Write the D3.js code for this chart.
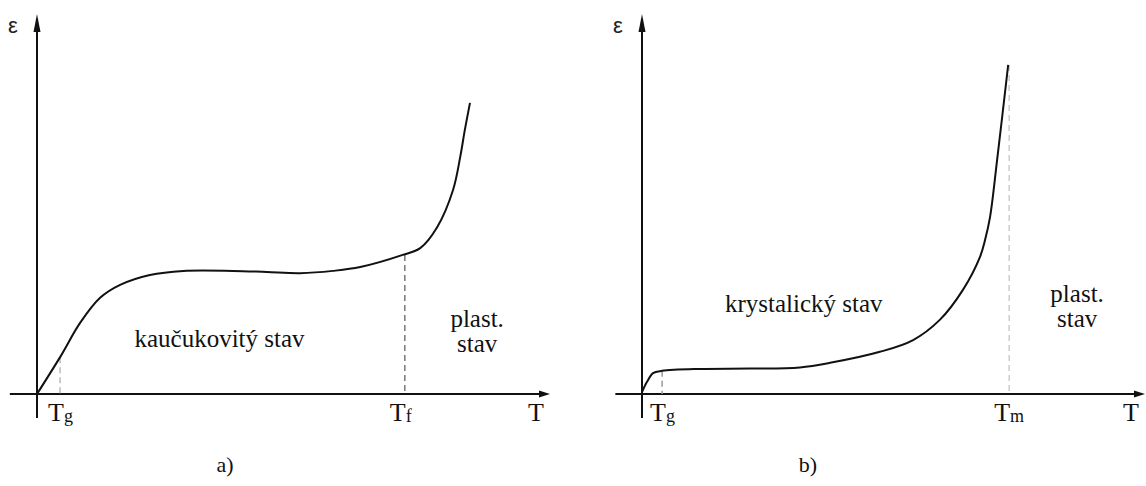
<!DOCTYPE html>
<html>
<head>
<meta charset="utf-8">
<script src="https://cdn.jsdelivr.net/npm/d3@7"></script>
<style>
  body { margin: 0; background: #fff; }
  #wrap { position: relative; width: 1146px; height: 486px; }
  svg { display: block; position: absolute; left: 0; top: 0; }
  .lbl { position: absolute; white-space: nowrap; line-height: 1; color: #111;
         font-family: 'Liberation Serif', 'Times New Roman', serif; }
  .lbl sub { vertical-align: baseline; position: relative; top: 1px; }
</style>
</head>
<body>
<div id="wrap"><svg id="chart" width="1146" height="486"></svg></div>
<script>
// curve a) - rubbery polymer (kaučukovitý stav)
var leftT = [0, 4.5, 8.4, 12.3, 16.2, 22, 28.5, 38.2, 44.8, 51.3, 57.7, 63, 71.3, 74.7, 78, 81.1, 82.5, 83.4, 84.4];
var leftE = [0, 9.7, 18.7, 25.3, 28.7, 31.3, 32.4, 32.4, 32.1, 31.8, 32.4, 33.4, 36.6, 38.4, 43.9, 53.7, 62.4, 69.5, 76.6];

// curve b) - crystalline polymer (krystalický stav)
var rightT = [0, 1, 2.2, 4, 11.5, 21.5, 31.4, 37.4, 47.3, 53.9, 59.2, 63.8, 67.2, 68.2, 69.2, 70.6, 72.8];
var rightE = [0.5, 3.2, 5.5, 6.1, 6.6, 6.7, 7, 8.2, 11.1, 14.2, 19.5, 27.4, 36.1, 40.5, 46.6, 61.6, 86.6];

// transition temperatures: subscript, T position, strain at the curve
var leftMarks = [{ sub: "g", t: 4.5, e: 9.7, color: "#bbb" }, { sub: "f", t: 71.7, e: 36.6, color: "#777" }];
var rightMarks = [{ sub: "g", t: 4, e: 6.1, color: "#999" }, { sub: "m", t: 73, e: 86.6, color: "#ccc" }];

var leftRegions = [{ lines: ["kaučukovitý stav"], t: 19, e: 12.4, anchor: "start" },
                   { lines: ["plast.", "stav"], t: 85.8, e: 17.6, anchor: "middle" }];
var rightRegions = [{ lines: ["krystalický stav"], t: 16.5, e: 21.6, anchor: "start" },
                    { lines: ["plast.", "stav"], t: 86.5, e: 24.2, anchor: "middle" }];

var svg = d3.select("#chart");
var wrap = d3.select("#wrap");

// html label placed by its baseline (Liberation Serif baseline sits ~0.84em below the box top)
function Label(x, baseY, size, anchor, family) {
	return wrap.append("div")
		.attr("class", "lbl")
		.style("left", x + "px")
		.style("top", (baseY - 0.84 * size) + "px")
		.style("font-size", size + "px")
		.style("font-family", family || null)
		.style("transform", anchor === "middle" ? "translateX(-50%)" : null);
}

function DrawPanel(ox, xEnd, tList, eList, marks, regions, caption, captionX) {
	var xScale = d3.scaleLinear().domain([0, 100]).range([ox, xEnd]);
	var yScale = d3.scaleLinear().domain([0, 100]).range([394, 14]);
	var g = svg.append("g");

	// axes
	g.append("line")
		.attr("x1", xScale(-5.3)).attr("y1", yScale(0))
		.attr("x2", xScale(100) - 6).attr("y2", yScale(0))
		.attr("stroke", "#111").attr("stroke-width", 2);
	g.append("line")
		.attr("x1", xScale(0)).attr("y1", yScale(-6.3))
		.attr("x2", xScale(0)).attr("y2", yScale(100) + 8)
		.attr("stroke", "#111").attr("stroke-width", 2);

	// arrow heads
	var ax = xScale(100), ay = yScale(0);
	g.append("path")
		.attr("d", "M" + ax + "," + ay + "L" + (ax - 11) + "," + (ay - 3.5) + "L" + (ax - 11) + "," + (ay + 3.5) + "Z")
		.attr("fill", "#111");
	var tx = xScale(0), ty = yScale(100);
	g.append("path")
		.attr("d", "M" + tx + "," + ty + "L" + (tx - 3.5) + "," + (ty + 18) + "L" + (tx + 3.5) + "," + (ty + 18) + "Z")
		.attr("fill", "#111");

	// dashed transition lines
	g.selectAll(".mark")
		.data(marks)
		.enter().append("line")
			.attr("class", "mark")
			.attr("x1", function(d) { return xScale(d.t); })
			.attr("x2", function(d) { return xScale(d.t); })
			.attr("y1", function(d) { return yScale(d.e); })
			.attr("y2", yScale(0))
			.attr("stroke", function(d) { return d.color; })
			.attr("stroke-width", 1.5)
			.attr("stroke-dasharray", "6,4");

	// the curve
	var line = d3.line()
		.x(function(d) { return xScale(d[0]); })
		.y(function(d) { return yScale(d[1]); })
		.curve(d3.curveCatmullRom.alpha(0.5));
	g.append("path")
		.datum(d3.zip(tList, eList))
		.attr("d", line)
		.attr("fill", "none")
		.attr("stroke", "#111")
		.attr("stroke-width", 2);

	// axis names
	Label(xScale(0) - 29, 33, 22, "start", "'Liberation Sans', Arial, sans-serif")
		.style("color", "#222")
		.text("ε");
	Label(xScale(100) - 22, 422, 26, "start").text("T");

	// T_g, T_f, T_m
	marks.forEach(function(d, i) {
		var l = Label(xScale(d.t) + (i === 0 ? -12 : -15), 422, 26, "start");
		l.append("span").text("T");
		l.append("sub").style("font-size", "18px").text(d.sub);
	});

	// region names
	regions.forEach(function(r) {
		r.lines.forEach(function(s, i) {
			Label(xScale(r.t), yScale(r.e) + i * 25, 25, r.anchor).text(s);
		});
	});

	Label(captionX, 472, 22, "middle").text(caption);
}

DrawPanel(37, 550, leftT, leftE, leftMarks, leftRegions, "a)", 225);
DrawPanel(642, 1145, rightT, rightE, rightMarks, rightRegions, "b)", 808);
</script>
</body>
</html>
